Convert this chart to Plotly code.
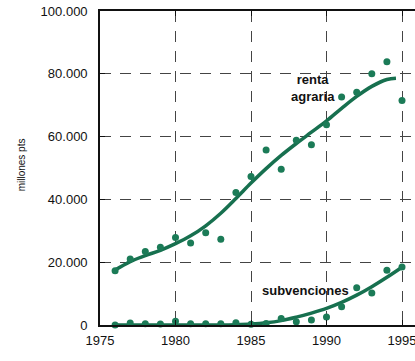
import plotly.graph_objects as go

# --- data ---
years = list(range(1976, 1996))
renta_points = [17300, 21000, 23400, 24800, 27900, 26100, 29400, 27300, 42200, 47300,
                55700, 49600, 58800, 57400, 63800, 72600, 74100, 80000, 83800, 71500]
renta_curve_years = [1976, 1977, 1978, 1979, 1980, 1981, 1982, 1983, 1984, 1985,
                     1986, 1987, 1988, 1989, 1990, 1991, 1992, 1993, 1994, 1994.6]
renta_curve = [17500, 20200, 22100, 23800, 25900, 28400, 31600, 35600, 40300, 45200,
               49800, 54000, 57800, 61400, 65000, 69000, 72800, 76000, 78200, 78600]

subv_points = [0, 600, 400, 300, 1200, 400, 400, 400, 700, 200,
               500, 2100, 1050, 1600, 2550, 5850, 11900, 10200, 17400, 18500]
subv_curve = [0, 0, 0, 0, 0, 0, 0, 0, 100, 300,
              700, 1400, 2500, 3800, 5300, 7200, 9500, 12200, 15200, 18400]

y_ticks = [0, 20000, 40000, 60000, 80000, 100000]
y_ticklabels = ["0", "20.000", "40.000", "60.000", "80.000", "100.000"]
x_ticks = [1975, 1980, 1985, 1990, 1995]
x_ticklabels = ["1975", "1980", "1985", "1990", "1995"]

GREEN = "#17704f"
DOT = "#1b7b57"
FONT = "Liberation Sans, Arial, sans-serif"

fig = go.Figure()
fig.add_trace(go.Scatter(x=renta_curve_years, y=renta_curve, mode="lines",
                         line=dict(color=GREEN, width=3.5, shape="spline"),
                         cliponaxis=False, hoverinfo="skip"))
fig.add_trace(go.Scatter(x=years, y=subv_curve, mode="lines",
                         line=dict(color=GREEN, width=3.5, shape="spline"),
                         cliponaxis=False, hoverinfo="skip"))
fig.add_trace(go.Scatter(x=years, y=renta_points, mode="markers",
                         marker=dict(color=DOT, size=7), cliponaxis=False))
fig.add_trace(go.Scatter(x=years, y=subv_points, mode="markers",
                         marker=dict(color=DOT, size=7), cliponaxis=False))

fig.add_annotation(x=1989.1, y=75600, text="<b>renta<br>agraria</b>", showarrow=False,
                   font=dict(family=FONT, size=13, color="#111"), align="center")
fig.add_annotation(x=1988.6, y=10850, text="<b>subvenciones</b>", showarrow=False,
                   font=dict(family=FONT, size=13, color="#111"))
fig.add_annotation(xref="paper", yref="paper", x=-0.273, y=0.51, text="millones pts",
                   textangle=-90, showarrow=False,
                   font=dict(family=FONT, size=10, color="#111"))

fig.update_layout(
    width=415, height=361,
    margin=dict(l=100, r=0, t=11, b=36),
    plot_bgcolor="white", paper_bgcolor="white",
    showlegend=False,
    font=dict(family=FONT, size=13, color="#111"),
    xaxis=dict(range=[1975, 1995.86], tickvals=x_ticks, ticktext=x_ticklabels,
               automargin=False, ticklabeloverflow="allow",
               showgrid=True, gridcolor="#444", griddash="11px,9px", gridwidth=1.4,
               showline=True, linecolor="#111", linewidth=1.6, mirror="ticks",
               ticks="inside", ticklen=5, tickcolor="#111", zeroline=False,
               ticklabelstandoff=3),
    yaxis=dict(range=[0, 100000], tickvals=y_ticks, ticktext=y_ticklabels,
               automargin=False, ticklabeloverflow="allow",
               showgrid=True, gridcolor="#444", griddash="11px,9px", gridwidth=1.4,
               showline=True, linecolor="#111", linewidth=1.6,
               ticks="inside", ticklen=5, tickcolor="#111", zeroline=False,
               ticklabelstandoff=8),
)

fig.write_html("out.html", config={"displayModeBar": False},
               post_script="document.body.style.margin='0';document.body.style.overflow='hidden';")
